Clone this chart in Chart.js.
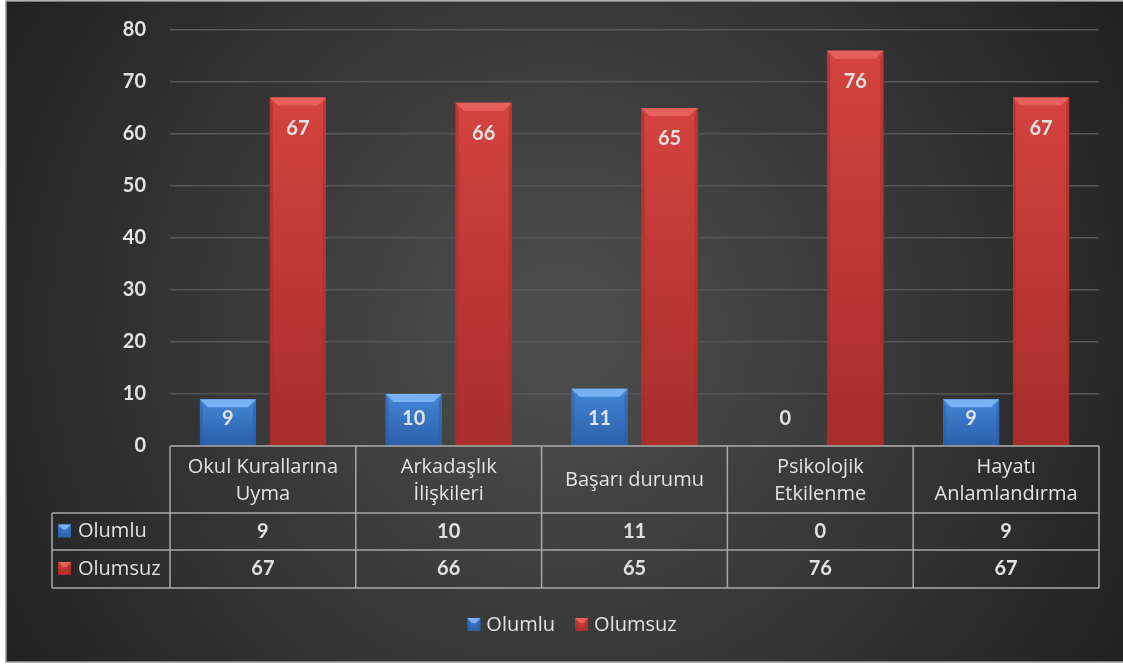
<!DOCTYPE html>
<html lang="tr">
<head>
<meta charset="UTF-8">
<title>Olumlu / Olumsuz</title>
<script src="https://cdn.jsdelivr.net/npm/chart.js"></script>
<style>
  body { margin: 0; background: #fff; }
  #wrap { width: 1123px; height: 666px; }
</style>
</head>
<body>
<div id="wrap"><canvas id="chart" width="1123" height="666"></canvas></div>
<script>
const categories = [
  ['Okul Kurallarına', 'Uyma'],
  ['Arkadaşlık', 'İlişkileri'],
  ['Başarı durumu'],
  ['Psikolojik', 'Etkilenme'],
  ['Hayatı', 'Anlamlandırma']
];
const olumlu = [9, 10, 11, 0, 9];
const olumsuz = [67, 66, 65, 76, 67];
const seriesNames = ['Olumlu', 'Olumsuz'];
const yMax = 80;
const yStep = 10;

const FONT = 'Lato, "Open Sans", sans-serif';
const FONT2 = '"Open Sans", Lato, sans-serif';
const TEXT = '#e2e2e2';
const LINE = '#a8a8a8';

// colours for the bevelled bars
const palette = [
  { top: '#79b2f2', hi: '#4486d8', lo: '#2b60ab', side: '#2a5ea6' },
  { top: '#e8605b', hi: '#d4433f', lo: '#a82d2b', side: '#a92c2a' }
];

function drawBevelRect(ctx, x0, y0, x1, y1, c, b) {
  const g = ctx.createLinearGradient(0, y0, 0, y1);
  g.addColorStop(0, c.hi);
  g.addColorStop(1, c.lo);
  ctx.fillStyle = g;
  ctx.fillRect(x0, y0, x1 - x0, y1 - y0);
  const h = Math.min(b, (y1 - y0) / 2);
  ctx.fillStyle = c.top;
  ctx.beginPath();
  ctx.moveTo(x0, y0); ctx.lineTo(x1, y0);
  ctx.lineTo(x1 - h, y0 + h); ctx.lineTo(x0 + h, y0 + h);
  ctx.closePath(); ctx.fill();
  ctx.fillStyle = c.side;
  ctx.globalAlpha = 0.55;
  ctx.beginPath();
  ctx.moveTo(x0, y0); ctx.lineTo(x0 + 3, y0 + h); ctx.lineTo(x0 + 3, y1); ctx.lineTo(x0, y1);
  ctx.closePath(); ctx.fill();
  ctx.beginPath();
  ctx.moveTo(x1, y0); ctx.lineTo(x1 - 3, y0 + h); ctx.lineTo(x1 - 3, y1); ctx.lineTo(x1, y1);
  ctx.closePath(); ctx.fill();
  ctx.globalAlpha = 1;
}

const backgroundPlugin = {
  id: 'bg',
  beforeDraw(chart) {
    const ctx = chart.ctx;
    const w = chart.width, h = chart.height;
    ctx.save();
    ctx.fillStyle = '#ffffff';
    ctx.fillRect(0, 0, w, h);
    const g = ctx.createRadialGradient(560, 330, 20, 560, 330, 640);
    g.addColorStop(0, '#4e4e4e');
    g.addColorStop(1, '#222222');
    ctx.fillStyle = g;
    ctx.fillRect(6, 1, w - 6, 661);
    ctx.strokeStyle = '#9a9a9a';
    ctx.lineWidth = 1.5;
    ctx.beginPath();
    ctx.moveTo(w, 1); ctx.lineTo(6, 1); ctx.lineTo(6, 662); ctx.lineTo(w, 662);
    ctx.stroke();
    ctx.restore();
  }
};

const barsPlugin = {
  id: 'bevelBars',
  afterDatasetsDraw(chart) {
    const ctx = chart.ctx;
    ctx.save();
    chart.data.datasets.forEach((ds, di) => {
      const meta = chart.getDatasetMeta(di);
      meta.data.forEach((bar, i) => {
        const p = bar.getProps(['x', 'y', 'base', 'width'], true);
        const x0 = p.x - p.width / 2, x1 = p.x + p.width / 2;
        if (p.base - p.y > 0.5) {
          drawBevelRect(ctx, x0, p.y, x1, p.base, palette[di], 8);
        }
        const ly = Math.min(p.y + 31, p.base - 27);
        ctx.fillStyle = TEXT;
        ctx.font = 'bold 20px ' + FONT;
        ctx.textAlign = 'center';
        ctx.textBaseline = 'middle';
        ctx.fillText(String(ds.data[i]), p.x, ly);
      });
    });
    ctx.restore();
  }
};

const tablePlugin = {
  id: 'dataTable',
  afterDraw(chart) {
    const ctx = chart.ctx;
    const a = chart.chartArea;
    const n = categories.length;
    const band = (a.right - a.left) / n;
    const keyLeft = 52;
    const rows = [a.bottom, a.bottom + 67, a.bottom + 104, a.bottom + 142];
    ctx.save();
    ctx.strokeStyle = LINE;
    ctx.lineWidth = 1.5;
    ctx.beginPath();
    ctx.moveTo(a.left, rows[0]); ctx.lineTo(a.right, rows[0]);
    for (let r = 1; r < rows.length; r++) {
      ctx.moveTo(keyLeft, rows[r]); ctx.lineTo(a.right, rows[r]);
    }
    ctx.moveTo(keyLeft, rows[1]); ctx.lineTo(keyLeft, rows[3]);
    for (let i = 0; i <= n; i++) {
      const bx = a.left + i * band;
      ctx.moveTo(bx, rows[0]); ctx.lineTo(bx, rows[3]);
    }
    ctx.stroke();

    ctx.textBaseline = 'middle';
    // header
    ctx.fillStyle = TEXT;
    ctx.textAlign = 'center';
    ctx.font = '20px ' + FONT2;
    categories.forEach((lines, i) => {
      const cx = chart.scales.x.getPixelForTick(i);
      const mid = (rows[0] + rows[1]) / 2;
      lines.forEach((t, k) => {
        ctx.fillText(t, cx, mid + 1 + (k - (lines.length - 1) / 2) * 27);
      });
    });
    // values + series keys
    chart.data.datasets.forEach((ds, di) => {
      const cy = (rows[di + 1] + rows[di + 2]) / 2;
      ctx.fillStyle = TEXT;
      ctx.textAlign = 'center';
      ctx.font = 'bold 20px ' + FONT;
      ds.data.forEach((v, i) => {
        ctx.fillText(String(v), chart.scales.x.getPixelForTick(i), cy);
      });
      drawBevelRect(ctx, 58, cy - 7, 71, cy + 6, palette[di], 5);
      ctx.fillStyle = TEXT;
      ctx.textAlign = 'left';
      ctx.font = '20px ' + FONT2;
      ctx.fillText(ds.label, 78, cy);
    });

    // bottom legend
    ctx.font = '20px ' + FONT2;
    const gap = 20, key = 13, kgap = 6;
    const widths = seriesNames.map(s => key + kgap + ctx.measureText(s).width);
    const total = widths.reduce((s, w) => s + w, 0) + gap * (seriesNames.length - 1);
    let lx = 572 - total / 2;
    const ly = 625;
    ctx.textAlign = 'left';
    seriesNames.forEach((s, i) => {
      drawBevelRect(ctx, lx, ly - 7, lx + key, ly + 6, palette[i], 5);
      ctx.fillStyle = TEXT;
      ctx.fillText(s, lx + key + kgap, ly);
      lx += widths[i] + gap;
    });
    ctx.restore();
  }
};

new Chart(document.getElementById('chart'), {
  type: 'bar',
  data: {
    labels: categories,
    datasets: [
      { label: seriesNames[0], data: olumlu, backgroundColor: '#3a78c8', categoryPercentage: 0.753, barPercentage: 0.8 },
      { label: seriesNames[1], data: olumsuz, backgroundColor: '#c93b38', categoryPercentage: 0.753, barPercentage: 0.8 }
    ]
  },
  options: {
    responsive: false,
    animation: false,
    devicePixelRatio: 1,
    layout: { padding: { left: 0, top: 30, right: 24, bottom: 220 } },
    plugins: { legend: { display: false }, tooltip: { enabled: false } },
    scales: {
      x: { display: false },
      y: {
        min: 0,
        max: yMax,
        afterFit(scale) {
          scale.width = 170;
          scale.paddingTop = 0;
          scale.paddingBottom = 0;
        },
        ticks: { stepSize: yStep, padding: 24, color: TEXT, font: { family: FONT, size: 20, weight: 'bold' } },
        grid: { color: '#575757', lineWidth: 1.5, drawTicks: false },
        border: { display: false }
      }
    }
  },
  plugins: [backgroundPlugin, barsPlugin, tablePlugin]
});
</script>
</body>
</html>
